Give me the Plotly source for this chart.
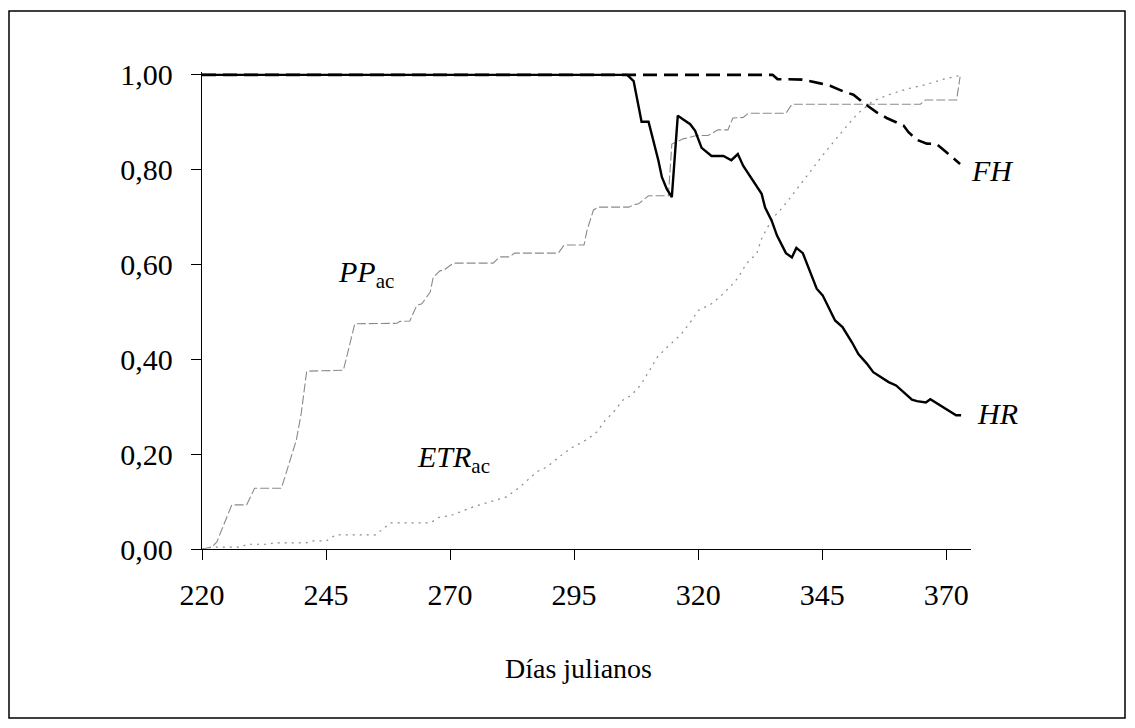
import plotly.graph_objects as go

# Día juliano / fracción para cada serie
hr_days = [220, 305, 305.7, 307, 308.6, 310, 311, 312, 312.7, 313.7, 314.7, 315.9, 317,
           318.4, 319.4, 320.7, 322.7, 325.1, 326.7, 328, 329.1, 332.8, 333.5, 334.8,
           335.9, 337.7, 338.9, 339.8, 341.1, 343.9, 345.1, 347.6, 349.1, 351, 352.3,
           354, 355.3, 356.3, 358.4, 359.9, 361.4, 363.1, 364.1, 365.9, 366.8, 368.5,
           370.2, 372, 373]
hr_vals = [1.0, 1.0, 1.0, 0.987, 0.901, 0.901, 0.861, 0.819, 0.784, 0.759, 0.742, 0.914,
           0.906, 0.896, 0.882, 0.846, 0.829, 0.829, 0.820, 0.833, 0.808, 0.749, 0.720,
           0.693, 0.661, 0.624, 0.615, 0.635, 0.624, 0.549, 0.535, 0.482, 0.468, 0.436,
           0.411, 0.391, 0.373, 0.366, 0.352, 0.345, 0.331, 0.315, 0.312, 0.309, 0.316,
           0.305, 0.295, 0.282, 0.282]

fh_days = [220, 335, 336, 341, 344.6, 346.6, 349.3, 351.3, 353.7, 356, 358, 361.4, 362.4,
           364.1, 366.1, 368.1, 370.1, 372.8]
fh_vals = [1.0, 1.0, 0.991, 0.99, 0.982, 0.977, 0.965, 0.958, 0.938, 0.921, 0.909, 0.893,
           0.879, 0.863, 0.855, 0.854, 0.836, 0.812]

pp_days = [220, 222, 223, 226, 229, 230.6, 236, 239, 240, 241.1, 248.5, 250.8, 259.3,
           259.9, 261.9, 263.3, 264.3, 266, 266.6, 268, 268.6, 270.7, 278.7, 280, 282,
           283, 291.8, 293, 297, 297.6, 298.9, 299.9, 306, 307, 308, 310, 314, 314.7, 317,
           319.7, 322, 324, 326, 327, 329.1, 330.1, 337.7, 338.9, 364.8, 365.8, 372.1,
           372.8]
pp_vals = [0.0, 0.004, 0.015, 0.093, 0.093, 0.128, 0.128, 0.229, 0.286, 0.375, 0.377,
           0.475, 0.476, 0.480, 0.481, 0.514, 0.517, 0.542, 0.573, 0.587, 0.587, 0.603,
           0.603, 0.616, 0.616, 0.624, 0.624, 0.641, 0.641, 0.672, 0.715, 0.721, 0.721,
           0.726, 0.728, 0.745, 0.745, 0.854, 0.865, 0.872, 0.872, 0.884, 0.884, 0.909,
           0.910, 0.919, 0.919, 0.938, 0.938, 0.947, 0.947, 0.996]

etr_days = [220, 222, 228, 229, 233.7, 234.3, 241, 242.4, 245, 247, 255, 258, 266, 268,
            270, 274.7, 281.4, 284.1, 287.5, 289.5, 292.8, 294.8, 297.6, 299.6, 301.3,
            302.9, 304.8, 306.6, 308.5, 310.3, 311.8, 313.7, 316.5, 318.7, 320, 322.7,
            324.7, 326.7, 328.1, 329.8, 331.8, 332.8, 333.8, 335.2, 336.5, 338.5, 341.9,
            345.3, 348.6, 352, 355.3, 358.7, 362, 366.1, 369.5, 372.5]
etr_vals = [0.0, 0.004, 0.004, 0.010, 0.010, 0.013, 0.013, 0.017, 0.017, 0.030, 0.030,
            0.055, 0.055, 0.068, 0.070, 0.089, 0.110, 0.131, 0.163, 0.173, 0.201, 0.215,
            0.231, 0.247, 0.272, 0.288, 0.314, 0.325, 0.347, 0.377, 0.405, 0.425, 0.452,
            0.482, 0.503, 0.517, 0.535, 0.556, 0.573, 0.603, 0.623, 0.654, 0.675, 0.700,
            0.714, 0.740, 0.787, 0.833, 0.875, 0.917, 0.945, 0.959, 0.970, 0.980, 0.991,
            0.998]

y_ticks = [0, 0.2, 0.4, 0.6, 0.8, 1.0]
x_ticks = [220, 245, 270, 295, 320, 345, 370]

W, H = 1135, 728
ML, MR, MT, MB = 202, 164, 72, 179
PW, PH = W - ML - MR, H - MT - MB
FONT = "Liberation Serif, Times New Roman, serif"


def px_to_paper(px, py):
    return (px - ML) / PW, (H - MB - py) / PH


fig = go.Figure()
fig.add_trace(go.Scatter(x=pp_days, y=pp_vals, mode="lines",
                         line=dict(color="#8a8a8a", width=1.1, dash="9px,3px")))
fig.add_trace(go.Scatter(x=etr_days, y=etr_vals, mode="lines",
                         line=dict(color="#8a8a8a", width=1.2, dash="2px,5px")))
fig.add_trace(go.Scatter(x=hr_days, y=hr_vals, mode="lines",
                         line=dict(color="black", width=2.4)))
fig.add_trace(go.Scatter(x=fh_days, y=fh_vals, mode="lines",
                         line=dict(color="black", width=2.6, dash="14px,7px")))

# series names beside their curves, plus the x-axis caption (pixel centres)
labels = [
    ("<i>PP</i><sub>ac</sub>", 366, 274, 30),
    ("<i>ETR</i><sub>ac</sub>", 453, 459, 30),
    ("<i>FH</i>", 992, 170, 30),
    ("<i>HR</i>", 997, 413, 30),
    ("Días julianos", 578, 668, 28),
]
for txt, lx, ly, fs in labels:
    ax_, ay_ = px_to_paper(lx, ly)
    fig.add_annotation(text=txt, x=ax_, y=ay_, xref="paper", yref="paper",
                       xanchor="center", yanchor="middle", showarrow=False,
                       font=dict(family=FONT, size=fs, color="black"))

# marco exterior
x0, y0 = px_to_paper(9, 718)
x1, y1 = px_to_paper(1125, 11)
fig.add_shape(type="rect", xref="paper", yref="paper", x0=x0, y0=y0, x1=x1, y1=y1,
              line=dict(color="black", width=1.5), fillcolor="rgba(0,0,0,0)")

fig.update_layout(
    width=W, height=H,
    margin=dict(l=ML, r=MR, t=MT, b=MB, pad=0),
    paper_bgcolor="white", plot_bgcolor="white",
    showlegend=False,
    separators=",.",
    font=dict(family=FONT, size=30, color="black"),
    xaxis=dict(range=[220, 375], tickvals=x_ticks, ticks="outside", ticklen=10,
               tickwidth=1.3, tickcolor="black", showline=True, linecolor="black",
               linewidth=1.3, showgrid=False, zeroline=False,
               tickfont=dict(family=FONT, size=30), ticklabelstandoff=9),
    yaxis=dict(range=[0, 1.006], tickvals=y_ticks, tickformat=".2f", ticks="outside",
               ticklen=10, tickwidth=1.3, tickcolor="black", showline=True,
               linecolor="black", linewidth=1.3, showgrid=False, zeroline=False,
               tickfont=dict(family=FONT, size=30), ticklabelstandoff=12),
)

fig.write_html("out.html")
